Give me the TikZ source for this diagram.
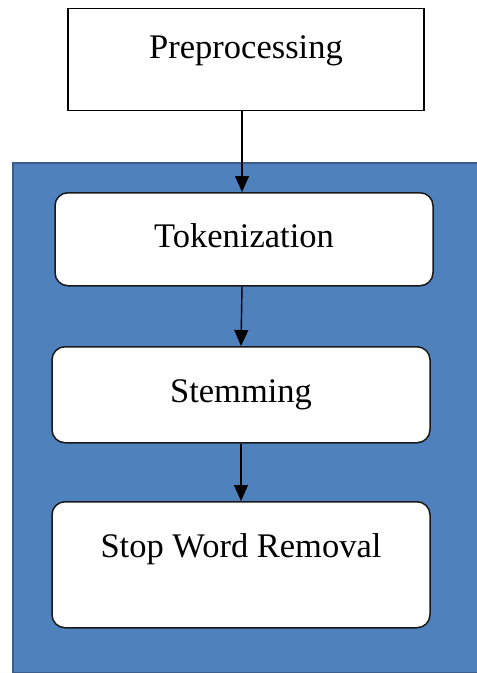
\documentclass[tikz,border=0pt]{standalone}
\usepackage{fontspec}
\setmainfont{Liberation Serif}
\newfontfamily\lblfont{Liberation Serif}
\usetikzlibrary{arrows.meta}
\definecolor{panelblue}{HTML}{4F81BD}
\definecolor{paneledge}{HTML}{3B5E8C}
\newcommand{\lbl}[1]{{\lblfont\fontsize{34.5}{41}\selectfont #1}}
\begin{document}
\begin{tikzpicture}[x=1pt,y=-1pt,
  panelbox/.style={draw=paneledge, fill=panelblue, line width=2pt, inner sep=0pt, anchor=north west},
  plainbox/.style={draw=black, line width=1.2pt, fill=white, inner sep=0pt, anchor=north, minimum width=356pt},
  roundbox/.style={draw=black!90, line width=1.5pt, fill=white, inner sep=0pt, anchor=north, rounded corners=13pt, minimum width=378pt},
  arr/.style={draw=black, line width=1.4pt, -{Triangle[length=16pt,width=14pt]}}]
\useasboundingbox (0,0) rectangle (477,673);
\node[panelbox, minimum width=467pt, minimum height=510pt] (panel) at (12,162) {};
\node[plainbox, text height=50pt, text depth=52pt] (pre) at (246,8) {\lbl{Preprocessing}};
\node[roundbox, text height=55pt, text depth=38pt] (tok) at (244,192) {\lbl{Tokenization}};
\node[roundbox, text height=56pt, text depth=40pt] (stem) at (241,346) {\lbl{Stemming}};
\node[roundbox, text height=56pt, text depth=70pt] (stop) at (241,501) {\lbl{Stop Word Removal}};
\draw[arr] ([xshift=-4pt]pre.south) -- ([xshift=-2pt]tok.north);
\draw[arr] ([xshift=-2pt]tok.south) -- ([xshift=0pt]stem.north);
\draw[arr] (stem.south) -- (stop.north);
\end{tikzpicture}
\end{document}
